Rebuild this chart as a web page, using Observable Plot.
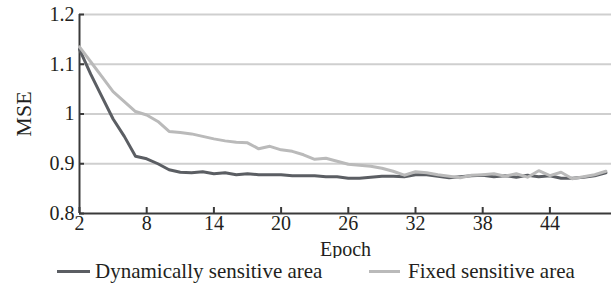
<!DOCTYPE html>
<html>
<head>
<meta charset="utf-8">
<script src="https://cdn.jsdelivr.net/npm/d3@7"></script>
<script src="https://cdn.jsdelivr.net/npm/@observablehq/plot@0.6"></script>
<style>
  html, body { margin: 0; padding: 0; background: #fff; }
  #wrap { position: relative; width: 611px; height: 284px; font-family: "Liberation Serif", "Times New Roman", serif; color: #231f20; }
  #legend { position: absolute; left: 0; top: 258px; width: 611px; height: 26px; }
  .item { position: absolute; top: 0; height: 26px; display: flex; align-items: center; font-size: 21px; white-space: nowrap; }
  .sw { display: inline-block; height: 3px; }
</style>
</head>
<body>
<div id="wrap">
  <div id="chart"></div>
  <div id="legend"></div>
</div>
<script>
const epochs = [2,3,4,5,6,7,8,9,10,11,12,13,14,15,16,17,18,19,20,21,22,23,24,25,26,27,28,29,30,31,32,33,34,35,36,37,38,39,40,41,42,43,44,45,46,47,48,49];
const dynamicMSE = [1.130,1.080,1.035,0.990,0.955,0.915,0.910,0.900,0.888,0.883,0.882,0.884,0.880,0.882,0.878,0.880,0.878,0.878,0.878,0.876,0.876,0.876,0.874,0.874,0.871,0.871,0.873,0.875,0.875,0.874,0.878,0.878,0.875,0.872,0.874,0.876,0.877,0.874,0.876,0.873,0.877,0.874,0.876,0.871,0.871,0.873,0.876,0.882];
const fixedMSE = [1.135,1.105,1.075,1.045,1.025,1.005,0.998,0.985,0.965,0.963,0.960,0.955,0.950,0.946,0.943,0.942,0.930,0.935,0.928,0.925,0.918,0.909,0.911,0.905,0.899,0.897,0.895,0.891,0.885,0.877,0.884,0.882,0.878,0.875,0.872,0.877,0.878,0.880,0.875,0.880,0.873,0.886,0.876,0.883,0.870,0.874,0.878,0.885];
const xTicks = [2,8,14,20,26,32,38,44];
const yTicks = [0.8,0.9,1.0,1.1,1.2];
const yTickLabels = ["0.8","0.9","1","1.1","1.2"];
const seriesNames = ["Dynamically sensitive area","Fixed sensitive area"];
const seriesColors = ["#5b5e63","#bababa"];

const dyn = epochs.map((e,i) => ({epoch: e, mse: dynamicMSE[i]}));
const fix = epochs.map((e,i) => ({epoch: e, mse: fixedMSE[i]}));

const chart = Plot.plot({
  width: 611,
  height: 258,
  marginLeft: 79,
  marginRight: 0,
  marginTop: 14,
  marginBottom: 45,
  style: {fontFamily: "Liberation Serif, Times New Roman, serif", fontSize: "20px", color: "#231f20", background: "#fff"},
  x: {domain: [2, 49.5]},
  y: {domain: [0.8, 1.2]},
  marks: [
    Plot.gridY(yTicks.slice(1), {stroke: "#cfcfcf", strokeOpacity: 1, strokeWidth: 2}),
    Plot.axisY(yTicks, {tickSize: -5, tickPadding: 10, stroke: "#3a3a3a", strokeWidth: 2, fontSize: 20,
      tickFormat: (d) => yTickLabels[yTicks.indexOf(d)], label: null}),
    Plot.axisY({label: "MSE", labelAnchor: "center", labelOffset: 64, labelArrow: "none", ticks: [], fontSize: 22, tickSize: 0}),
    Plot.axisX(xTicks, {tickSize: -6, tickPadding: 8, stroke: "#3a3a3a", strokeWidth: 2, fontSize: 20, label: null}),
    Plot.axisX({label: "Epoch", labelAnchor: "center", labelOffset: 42, labelArrow: "none", ticks: [], fontSize: 20, tickSize: 0}),
    Plot.ruleX([2], {stroke: "#3a3a3a", strokeWidth: 2}),
    Plot.ruleY([0.8], {stroke: "#3a3a3a", strokeWidth: 2}),
    Plot.lineY(dyn, {x: "epoch", y: "mse", stroke: seriesColors[0], strokeWidth: 3}),
    Plot.lineY(fix, {x: "epoch", y: "mse", stroke: seriesColors[1], strokeWidth: 3})
  ]
});
document.getElementById("chart").appendChild(chart);

const legend = document.getElementById("legend");
const lefts = [57, 369];
const swW = [33, 31];
const gaps = [5, 8];
seriesNames.forEach((name, i) => {
  const it = document.createElement("div");
  it.className = "item";
  it.style.left = lefts[i] + "px";
  const sw = document.createElement("span");
  sw.className = "sw";
  sw.style.width = swW[i] + "px";
  sw.style.background = seriesColors[i];
  sw.style.marginRight = gaps[i] + "px";
  const t = document.createElement("span");
  t.textContent = name;
  it.appendChild(sw);
  it.appendChild(t);
  legend.appendChild(it);
});
</script>
</body>
</html>
